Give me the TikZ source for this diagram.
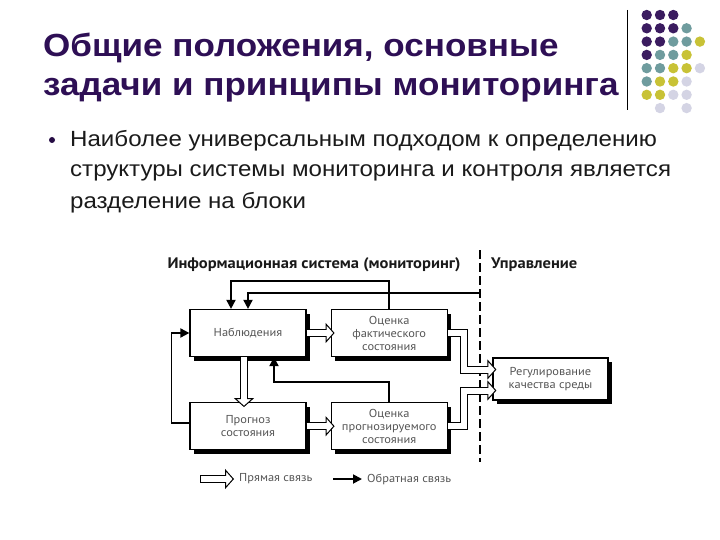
\documentclass[tikz,border=0pt]{standalone}
\usepackage{fontspec}
\setmainfont[FakeStretch=1.095]{Liberation Sans}
\newfontfamily\diagfont[FakeStretch=1.08]{PT Sans}
\usetikzlibrary{arrows.meta,positioning,shadows}
\definecolor{Plum}{HTML}{2E0F55}
\definecolor{DotPlum}{HTML}{3B1C60}
\definecolor{DotTeal}{HTML}{6F9C9E}
\definecolor{DotOlive}{HTML}{C8C236}
\definecolor{DotLilac}{HTML}{D4D4E4}
\definecolor{Ink}{HTML}{1A1A1A}
\definecolor{Muted}{HTML}{555555}
\tikzset{block/.style={draw,line width=1.2pt,fill=white,minimum width=116pt,minimum height=47pt,align=center,inner sep=2pt,font=\diagfont\fontsize{11.5}{13}\selectfont,text=Muted,general shadow={fill=black,shadow xshift=4pt,shadow yshift=-4pt}},fwd/.style={line width=8pt,-{Triangle[length=9pt,width=20pt,fill=white,line width=1pt]},postaction={draw=white,line width=6pt,arrows=-,shorten >=6pt,shorten <=#1}},fwd/.default=0pt,fb/.style={line width=1.8pt,-{Triangle[length=9pt,width=9pt]}},hdr/.style={font=\diagfont\bfseries\fontsize{15.3}{17}\selectfont,text=Ink},legtext/.style={font=\diagfont\fontsize{11.5}{13}\selectfont,text=Muted,inner sep=5pt}}

\begin{document}
\begin{tikzpicture}[x=1pt,y=-1pt]
      \useasboundingbox (0,0) rectangle (720,540);
      % title and text
      \node[anchor=base west,inner sep=0,font=\bfseries\fontsize{32}{38}\selectfont,text=Plum](title1) at (43,57){Общие положения, основные};
      \node[anchor=base west,inner sep=0,font=\bfseries\fontsize{32}{38}\selectfont,text=Plum](title2) at (43,96){задачи и принципы мониторинга};
      \draw[line width=0.8pt] (627,10) -- (627,110);
      \foreach \row [count=\j from 0] in {{DotPlum,DotPlum,DotPlum,none,none},{DotPlum,DotPlum,DotPlum,DotTeal,none},{DotPlum,DotPlum,DotTeal,DotTeal,DotOlive},{DotPlum,DotTeal,DotTeal,DotOlive,none},{DotTeal,DotTeal,DotOlive,DotOlive,DotLilac},{DotTeal,DotOlive,DotOlive,DotLilac,none},{DotOlive,DotOlive,DotLilac,DotLilac,none},{none,DotLilac,none,DotLilac,none}}
        {\foreach \col [count=\i from 0] in \row {\path[fill=\col] (646.7+13.3*\i,15+13.3*\j) circle (5.2);}}
      \fill[Plum!80!black] (52,140) circle (3);
      \node[anchor=base west,inner sep=0,font=\fontsize{22}{30}\selectfont,text=Ink](line1) at (70,147){Наиболее универсальным подходом к определению};
      \node[anchor=base west,inner sep=0,font=\fontsize{22}{30}\selectfont,text=Ink](line2) at (70,177){структуры системы мониторинга и контроля является};
      \node[anchor=base west,inner sep=0,font=\fontsize{22}{30}\selectfont,text=Ink](line3) at (70,208){разделение на блоки};
      % diagram
      \node[hdr](infohdr) at (314,265){Информационная система (мониторинг)};
      \node[hdr,anchor=west,inner sep=0](ctlhdr) at (491,265){Управление};
      \draw[line width=1.2pt,dash pattern=on 9pt off 4pt] (480,250) -- (480,462);
      \node[block](nab) at (248,333){Наблюдения};
      \node[block,right=24pt of nab](ofs){Оценка\\фактического\\состояния};
      \node[block,below=45pt of nab](prg){Прогноз\\состояния};
      \node[block,right=24pt of prg](ops){Оценка\\прогнозируемого\\состояния};
      \node[block,minimum width=115pt,minimum height=42pt](reg) at (550.5,379){Регулирование\\качества среды};
      \coordinate (ctl) at (480,293);
      \draw[fb] (ofs.north) -- ++(0,-28) -| ([xshift=-17pt]nab.north);
      \draw[fb] (ctl) -| (nab.north);
      \draw[fb] (ops.north) -- ++(0,-20) -| ([xshift=26pt]nab.south);
      \draw[fb] ([yshift=3pt]prg.west) -- ++(-18,0) |- (nab.west);
      \draw[fwd] (nab.east) -- ([xshift=4pt]ofs.west);
      \draw[fwd] (prg.east) -- ([xshift=4pt]ops.west);
      \draw[fwd] ([xshift=-4pt]nab.south) -- ([xshift=-4pt,yshift=-5pt]prg.north);
      \draw[fwd] (ofs.east) -| ([xshift=-28pt,yshift=9.5pt]reg.west) -- ([xshift=4pt,yshift=9.5pt]reg.west);
      \draw[fwd] (ops.east) -| ([xshift=-28pt,yshift=-11.5pt]reg.west) -- ([xshift=4pt,yshift=-11.5pt]reg.west);
      % legend
      \coordinate (ldir0) at (200,479);
      \node[legtext,anchor=west](ldir) at (234,479){Прямая связь};
      \draw[fwd=1pt] (ldir0) -- (ldir.west);
      \coordinate (lfb0) at (333,479);
      \node[legtext,anchor=west](lfb) at (362,479){Обратная связь};
      \draw[fb] (lfb0) -- (lfb.west);
    \end{tikzpicture}
\end{document}
